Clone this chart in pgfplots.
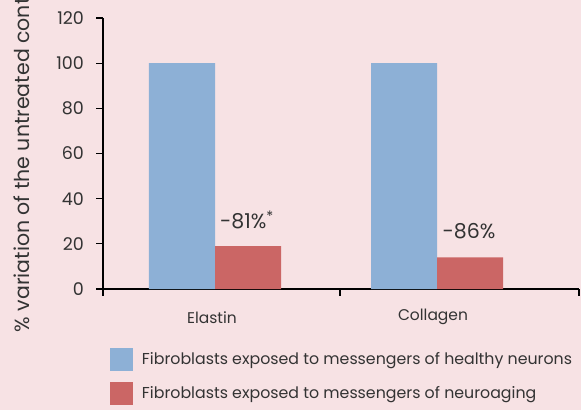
\documentclass[border=0pt]{standalone}
\usepackage{fontspec}
\setmainfont{Poppins}
\usepackage{pgfplots}
\pgfplotsset{compat=1.18}
\definecolor{bg}{HTML}{F7E2E4}
\definecolor{cblue}{HTML}{8DB0D6}
\definecolor{cred}{HTML}{CB6665}
\definecolor{txt}{HTML}{333333}
\begin{document}
\begin{tikzpicture}
\fill[bg] (-103pt,-121pt) rectangle (478pt,289pt);
\useasboundingbox (-103pt,-121pt) rectangle (478pt,289pt);
\begin{axis}[
  at={(0,0)}, anchor=south west,
  scale only axis, width=476pt, height=271pt,
  xmin=103, xmax=579, ymin=0, ymax=120,
  axis x line=bottom, axis y line=left,
  axis line style={black, line width=1.3pt, -},
  ytick={0,20,...,120},
  xtick={103,340,579}, xticklabels={},
  tick style={black, line width=1.3pt},
  major tick length=6.5pt,
  xtick align=outside, ytick align=outside,
  ybar, bar width=66, bar shift=0pt,
  /pgf/number format/assume math mode=true,
  yticklabel style={font=\fontsize{17.5}{20}\selectfont, text=txt, xshift=-9pt},
  ylabel={\% variation of the untreated control},
  every axis y label/.style={at={(-81pt,137pt)}, rotate=90, anchor=center,
    font=\fontsize{20.5}{23}\selectfont, text=txt},
  clip=false,
  legend cell align=left,
  legend style={at={(7pt,-59pt)}, anchor=north west, draw=none, fill=none,
    font=\fontsize{15.8}{18}\selectfont, text=txt, inner sep=0pt, outer sep=0pt,
    row sep=11pt, nodes={inner sep=0pt}},
  legend columns=1,
]
\addplot[fill=cblue, draw=none, legend image code/.code={\fill[cblue] (0pt,-11.5pt) rectangle (23pt,11.5pt);}] coordinates {(182,100) (404,100)};
\addlegendentry{\hspace*{9pt}Fibroblasts exposed to messengers of healthy neurons}
\addplot[fill=cred, draw=none, legend image code/.code={\fill[cred] (0pt,-11.5pt) rectangle (23pt,11.5pt);}] coordinates {(248,19) (470,14)};
\addlegendentry{\hspace*{9pt}Fibroblasts exposed to messengers of neuroaging}
\node[text=txt, font=\fontsize{20.5}{23}\selectfont] at (axis cs:247,30.6) {-81\%\textsuperscript{*}};
\node[text=txt, font=\fontsize{20.5}{23}\selectfont] at (axis cs:469,25.7) {-86\%};
\node[text=txt, font=\fontsize{15.5}{18}\selectfont] at (axis cs:212,-12.5) {Elastin};
\node[text=txt, font=\fontsize{15.5}{18}\selectfont] at (axis cs:433,-12.5) {Collagen};
\end{axis}
\end{tikzpicture}
\end{document}
